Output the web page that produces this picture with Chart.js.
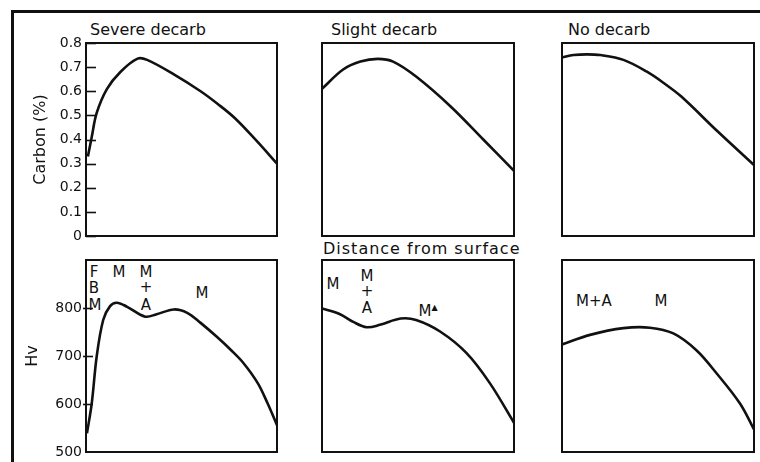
<!DOCTYPE html>
<html>
<head>
<meta charset="utf-8">
<script src="https://cdn.jsdelivr.net/npm/chart.js@4.4.1/dist/chart.umd.min.js"></script>
<style>
  html, body { margin: 0; padding: 0; background: #fff; }
  body { width: 760px; height: 462px; position: relative; overflow: hidden;
         font-family: "DejaVu Sans", sans-serif; color: #111; }
  .frame { position: absolute; left: 11px; top: 10px; width: 800px; height: 500px;
           border-top: 3px solid #111; border-left: 3px solid #111; }
  canvas { position: absolute; }
  .title { position: absolute; white-space: nowrap; font-size: 16px; line-height: 16px; }
  .note { position: absolute; white-space: nowrap; font-size: 15px; line-height: 15px;
          transform: translate(-50%, -50%); }
</style>
</head>
<body>
<div class="frame"></div>

<div class="title" style="left:90px; top:22px;">Severe decarb</div>
<div class="title" style="left:331px; top:22px;">Slight decarb</div>
<div class="title" style="left:568px; top:22px;">No decarb</div>
<div class="title" style="left:323px; top:241px; letter-spacing:1px;">Distance from surface</div>

<div class="note" style="left:94px; top:272px;">F</div>
<div class="note" style="left:94px; top:288px;">B</div>
<div class="note" style="left:95px; top:305px;">M</div>
<div class="note" style="left:119px; top:272px;">M</div>
<div class="note" style="left:146px; top:272px;">M</div>
<div class="note" style="left:146px; top:287px;">+</div>
<div class="note" style="left:146px; top:305px;">A</div>
<div class="note" style="left:202px; top:293px;">M</div>

<div class="note" style="left:333px; top:284px;">M</div>
<div class="note" style="left:367px; top:276px;">M</div>
<div class="note" style="left:367px; top:291px;">+</div>
<div class="note" style="left:367px; top:308px;">A</div>
<div class="note" style="left:428px; top:309px;">M<span style="font-size:8px;vertical-align:6px;">&#9650;</span></div>

<div class="note" style="left:594px; top:301px;">M+A</div>
<div class="note" style="left:661px; top:301px;">M</div>

<script>
// Distance from the surface (fraction of the profile depth) and the measured values.
const severeCarbonDist = [0.01, 0.03, 0.056, 0.11, 0.18, 0.27, 0.32, 0.46, 0.60, 0.69, 0.78, 0.89, 1.0];
const severeCarbon     = [0.33, 0.41, 0.51, 0.61, 0.68, 0.735, 0.73, 0.67, 0.60, 0.547, 0.488, 0.397, 0.30];

const slightCarbonDist = [0, 0.11, 0.20, 0.29, 0.37, 0.49, 0.67, 0.84, 1.0];
const slightCarbon     = [0.61, 0.69, 0.723, 0.734, 0.723, 0.661, 0.537, 0.40, 0.27];

const noCarbonDist = [0, 0.06, 0.13, 0.20, 0.32, 0.44, 0.53, 0.62, 0.81, 1.0];
const noCarbon     = [0.74, 0.75, 0.753, 0.75, 0.73, 0.682, 0.634, 0.579, 0.434, 0.294];

const severeHvDist = [0.005, 0.03, 0.056, 0.09, 0.126, 0.161, 0.213, 0.31, 0.37, 0.46, 0.53, 0.60, 0.685, 0.76, 0.825, 0.90, 0.95, 1.0];
const severeHv     = [539, 601, 699, 775, 804, 811, 803, 782, 787, 797, 790, 769, 740, 712, 685, 643, 602, 556];

const slightHvDist = [0, 0.094, 0.163, 0.233, 0.302, 0.41, 0.49, 0.615, 0.753, 0.875, 1.0];
const slightHv     = [799, 787, 771, 760, 765, 778, 775, 751, 706, 643, 561];

const noHvDist = [0, 0.146, 0.32, 0.458, 0.58, 0.70, 0.805, 0.927, 1.0];
const noHv     = [724, 744, 758, 759, 747, 712, 664, 601, 547];

// Axis ticks
const carbonTicks = [0, 0.1, 0.2, 0.3, 0.4, 0.5, 0.6, 0.7, 0.8];
const hvTicks = [500, 600, 700, 800];

const INK = '#111';
const FONT = 'DejaVu Sans';

// Plot boxes on the page: columns (x) and rows (y)
const cols = [[86, 277], [322, 514], [562, 754]];
const rows = [[43, 236], [260, 452]];
const AXIS_W = 74, PAD = 4, VPAD = 10;

// Draws the box around the plot area and short tick marks on the left edge.
const panelFrame = {
  id: 'panelFrame',
  afterDatasetsDraw(chart, args, opts) {
    const { ctx, chartArea: a } = chart;
    ctx.save();
    ctx.strokeStyle = INK;
    if (opts.ticks && opts.ticks.length) {
      const ys = chart.scales.y;
      ctx.lineWidth = 1.6;
      opts.ticks.forEach(v => {
        const py = Math.round(ys.getPixelForValue(v)) + 0.5;
        ctx.beginPath();
        ctx.moveTo(a.left - opts.out, py);
        ctx.lineTo(a.left + opts.in, py);
        ctx.stroke();
      });
    }
    ctx.lineWidth = 2;
    ctx.strokeRect(a.left, a.top, a.right - a.left, a.bottom - a.top);
    ctx.restore();
  }
};

function makePanel(col, row, dist, vals, yRange, axis) {
  const [x0, x1] = cols[col];
  const [y0, y1] = rows[row];
  const left = col === 0 ? AXIS_W : PAD;
  const cv = document.createElement('canvas');
  const w = (x1 - x0) + left + PAD;
  const h = (y1 - y0) + 2 * VPAD;
  cv.width = w; cv.height = h;
  cv.style.left = (x0 - left) + 'px';
  cv.style.top = (y0 - VPAD) + 'px';
  cv.style.width = w + 'px'; cv.style.height = h + 'px';
  document.body.appendChild(cv);

  const yScale = { min: yRange[0], max: yRange[1], display: false };
  if (axis) {
    Object.assign(yScale, {
      display: true,
      afterBuildTicks: s => { s.ticks = axis.ticks.map(v => ({ value: v })); },
      afterFit: s => { s.width = AXIS_W; s.paddingTop = 0; s.paddingBottom = 0; },
      grid: { display: false, drawTicks: false },
      border: { display: false },
      ticks: { color: INK, font: { family: FONT, size: 14 }, padding: 4, autoSkip: false,
               callback: axis.format },
      title: { display: true, text: axis.title, color: INK,
               font: { family: FONT, size: 16 }, padding: { top: axis.titlePad, bottom: 0 } }
    });
  }

  new Chart(cv, {
    type: 'line',
    data: {
      datasets: [{
        data: dist.map((d, i) => ({ x: d, y: vals[i] })),
        borderColor: INK,
        borderWidth: 2.6,
        pointRadius: 0,
        fill: false,
        tension: 0.35
      }]
    },
    options: {
      responsive: false,
      animation: false,
      devicePixelRatio: 1,
      layout: { padding: { left: col === 0 ? 0 : PAD, right: PAD, top: VPAD, bottom: VPAD } },
      scales: {
        x: { type: 'linear', min: 0, max: 1, display: false },
        y: yScale
      },
      plugins: {
        legend: { display: false },
        tooltip: { enabled: false },
        panelFrame: axis ? axis.marks : {}
      }
    },
    plugins: [panelFrame]
  });
}

const carbonAxis = {
  ticks: carbonTicks,
  title: 'Carbon (%)',
  titlePad: 19,
  format: v => (v === 0 ? '0' : Number(v).toFixed(1)),
  marks: { ticks: carbonTicks, in: 10, out: 0 }
};
const hvAxis = {
  ticks: hvTicks,
  title: 'Hv',
  titlePad: 11,
  format: v => String(v),
  marks: { ticks: hvTicks.slice(1), in: 7, out: 3 }
};

makePanel(0, 0, severeCarbonDist, severeCarbon, [0, 0.8], carbonAxis);
makePanel(1, 0, slightCarbonDist, slightCarbon, [0, 0.8]);
makePanel(2, 0, noCarbonDist, noCarbon, [0, 0.8]);
makePanel(0, 1, severeHvDist, severeHv, [500, 900], hvAxis);
makePanel(1, 1, slightHvDist, slightHv, [500, 900]);
makePanel(2, 1, noHvDist, noHv, [500, 900]);
</script>
</body>
</html>
